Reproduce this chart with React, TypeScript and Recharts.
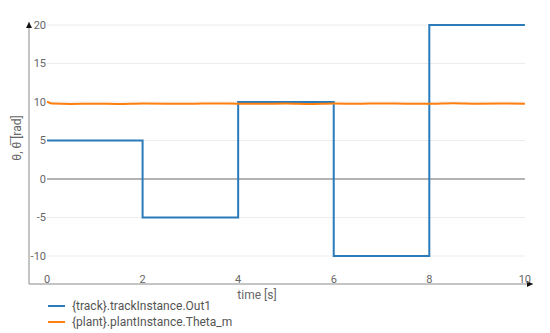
import { ComposedChart, Line, XAxis, YAxis, ReferenceLine, ReferenceDot, Label } from "recharts";

const trackTime = [0, 2, 4, 6, 8, 10];
const trackOut = [5, -5, 10, -10, 20, 20];

const plantTime = [0, 0.1, 0.5, 1, 1.5, 2, 2.5, 3, 3.5, 4, 4.5, 5, 5.5, 6, 6.5, 7, 7.5, 8, 8.5, 9, 9.5, 10];
const plantTheta = [10.05, 9.8, 9.75, 9.78, 9.74, 9.8, 9.78, 9.76, 9.82, 9.78, 9.76, 9.8, 9.74, 9.8, 9.76, 9.82, 9.78, 9.76, 9.84, 9.78, 9.8, 9.78];

const xTicks = [0, 2, 4, 6, 8, 10];
const yTicks = [-10, -5, 0, 5, 10, 15, 20];
const gridLevels = [-10, -5, 5, 10, 15, 20];

const X_DOMAIN: [number, number] = [-0.377, 10.17];
const Y_DOMAIN: [number, number] = [-13.64, 20.39];

const BLUE = "#2b7bba";
const ORANGE = "#ff7f0e";
const AXIS = "#8a8a8a";
const TEXT = "#666";
const FONT = "Roboto, sans-serif";

const trackData = trackTime.map((t, i) => ({ t, v: trackOut[i] }));
const plantData = plantTime.map((t, i) => ({ t, v: plantTheta[i] }));

const legendItems = [
  { name: "{track}.trackInstance.Out1", color: BLUE },
  { name: "{plant}.plantInstance.Theta_m", color: ORANGE },
];

function XTick(props: any) {
  const { x, y, payload } = props;
  return (
    <text x={x} y={y - 9} textAnchor="middle" fill={TEXT} fontSize={11} fontFamily={FONT}>
      {payload.value}
    </text>
  );
}

function YTick(props: any) {
  const { x, y, payload } = props;
  return (
    <text x={x + 25} y={y} dy={4} textAnchor="end" fill={TEXT} fontSize={11} fontFamily={FONT}>
      {payload.value}
    </text>
  );
}

function ArrowRight(props: any) {
  const { cx, cy } = props;
  return <path d={`M${cx - 6},${cy - 3} L${cx},${cy} L${cx - 6},${cy + 3} Z`} fill="#111" />;
}

function ArrowUp(props: any) {
  const { cx, cy } = props;
  return <path d={`M${cx - 3},${cy + 6} L${cx},${cy} L${cx + 3},${cy + 6} Z`} fill="#111" />;
}

// axis titles sit off-centre in the original, so they get their own spot
const XTitle = () => (
  <text x={257} y={299} textAnchor="middle" fill={TEXT} fontSize={12} fontFamily={FONT}>
    time [s]
  </text>
);

const YTitle = () => (
  <text
    x={17}
    y={138}
    transform="rotate(-90 17 138)"
    textAnchor="middle"
    dominantBaseline="central"
    fill={TEXT}
    fontSize={12}
    fontFamily={FONT}
  >
    θ, θ̅ [rad]
  </text>
);

export default function App() {
  return (
    <div style={{ position: "absolute", left: 0, top: 0, width: 550, height: 333, background: "#fff" }}>
      <ComposedChart width={550} height={333} margin={{ top: 22, right: 17, left: 28, bottom: 48 }}>
        {gridLevels.map((lv) => (
          <ReferenceLine
            key={lv}
            segment={[{ x: 0, y: lv }, { x: 10, y: lv }]}
            stroke="#ececec"
            strokeWidth={1}
          />
        ))}
        <ReferenceLine segment={[{ x: 0, y: 0 }, { x: 10, y: 0 }]} stroke="#9a9a9a" strokeWidth={1.5} />
        <XAxis
          dataKey="t"
          type="number"
          domain={X_DOMAIN}
          ticks={xTicks}
          allowDataOverflow
          height={1}
          tickLine={false}
          axisLine={{ stroke: AXIS, strokeWidth: 1 }}
          tick={<XTick />}
          interval={0}
        >
          <Label content={<XTitle />} />
        </XAxis>
        <YAxis
          type="number"
          domain={Y_DOMAIN}
          ticks={yTicks}
          allowDataOverflow
          width={1}
          tickLine={false}
          axisLine={{ stroke: AXIS, strokeWidth: 1 }}
          tick={<YTick />}
          interval={0}
        >
          <Label content={<YTitle />} />
        </YAxis>
        <Line
          data={trackData}
          dataKey="v"
          type="stepAfter"
          stroke={BLUE}
          strokeWidth={2}
          dot={false}
          isAnimationActive={false}
        />
        <Line
          data={plantData}
          dataKey="v"
          type="monotone"
          stroke={ORANGE}
          strokeWidth={2}
          dot={false}
          isAnimationActive={false}
        />
        <ReferenceDot x={X_DOMAIN[1]} y={Y_DOMAIN[0]} r={0} ifOverflow="visible" shape={<ArrowRight />} />
        <ReferenceDot x={X_DOMAIN[0]} y={Y_DOMAIN[1]} r={0} ifOverflow="visible" shape={<ArrowUp />} />
      </ComposedChart>
      <div style={{ position: "absolute", left: 48, top: 298, fontFamily: FONT, fontSize: 12, color: "#555" }}>
        {legendItems.map((it) => (
          <div key={it.name} style={{ display: "flex", alignItems: "center", height: 16 }}>
            <span style={{ display: "inline-block", width: 17, height: 2, background: it.color, marginRight: 7 }} />
            <span>{it.name}</span>
          </div>
        ))}
      </div>
    </div>
  );
}
